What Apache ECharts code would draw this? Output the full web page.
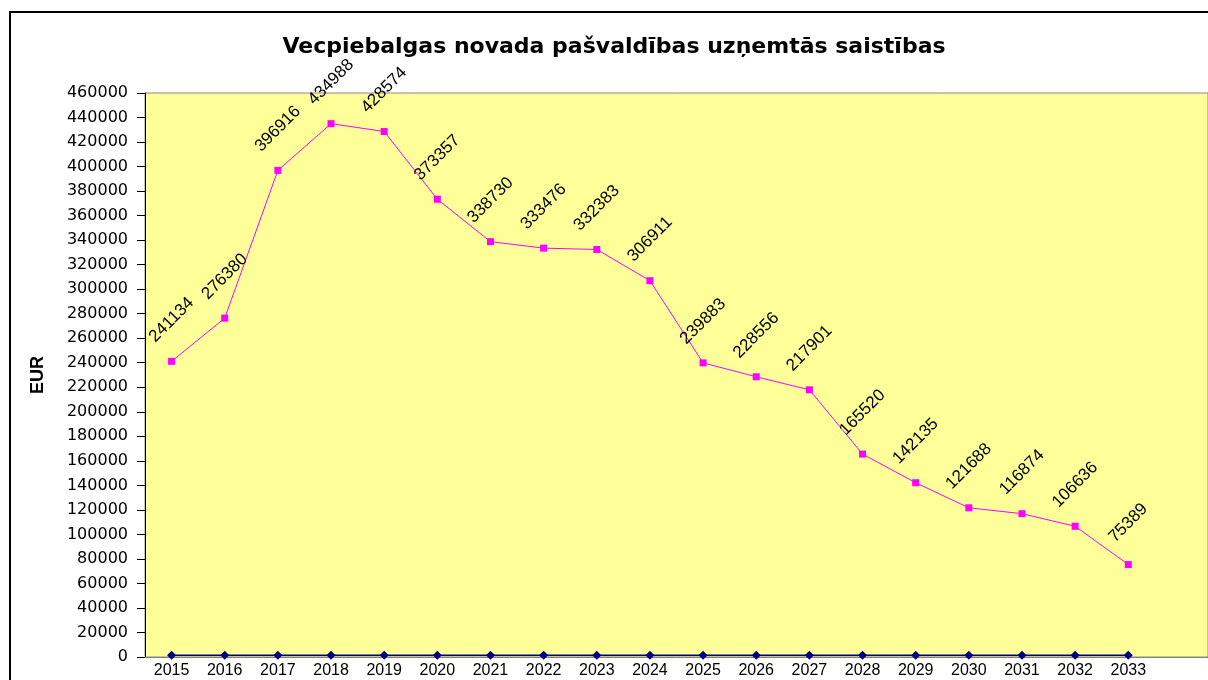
<!DOCTYPE html>
<html>
<head>
<meta charset="utf-8">
<script src="https://cdn.jsdelivr.net/npm/echarts@6/dist/echarts.min.js"></script>
<style>
html,body{margin:0;padding:0;background:#fff;}
#c{width:1208px;height:680px;}
</style>
</head>
<body>
<div id="c"></div>
<script>
const titleText = 'Vecpiebalgas novada pašvaldības uzņemtās saistības';
const yAxisName = 'EUR';
const years = ['2015','2016','2017','2018','2019','2020','2021','2022','2023','2024','2025','2026','2027','2028','2029','2030','2031','2032','2033'];
const extraCategories = [''];
const liabilities = [241134, 276380, 396916, 434988, 428574, 373357, 338730, 333476, 332383, 306911, 239883, 228556, 217901, 165520, 142135, 121688, 116874, 106636, 75389];
const baseline = [1500, 1500, 1500, 1500, 1500, 1500, 1500, 1500, 1500, 1500, 1500, 1500, 1500, 1500, 1500, 1500, 1500, 1500, 1500];
const yMin = 0, yMax = 460000, yStep = 20000;

const chart = echarts.init(document.getElementById('c'), null, {renderer: 'canvas'});
const FONT = 'Arial, "Liberation Sans", sans-serif';
const WIDE = '"DejaVu Sans", Arial, sans-serif';
chart.setOption({
  animation: false,
  backgroundColor: '#ffffff',
  title: {
    text: titleText,
    left: 609,
    top: 31,
    textAlign: 'center',
    textStyle: {fontFamily: WIDE, fontSize: 22, fontWeight: 'bold', color: '#000'}
  },
  graphic: [{
    type: 'rect', silent: true, z: 100,
    shape: {x: 10, y: 12, width: 1300, height: 720},
    style: {fill: 'none', stroke: '#000', lineWidth: 2}
  }],
  grid: {
    left: 145, top: 93, bottom: 23, right: 0,
    show: true, backgroundColor: '#FFFF99', borderColor: '#8a8a80', borderWidth: 1,
    containLabel: false
  },
  xAxis: {
    type: 'category',
    data: years.concat(extraCategories),
    boundaryGap: true,
    axisLine: {lineStyle: {color: '#808080', width: 1}},
    axisTick: {show: false},
    axisLabel: {fontFamily: FONT, fontSize: 16, color: '#000', margin: 6, interval: 0},
    splitLine: {show: false}
  },
  yAxis: {
    type: 'value',
    min: yMin, max: yMax, interval: yStep,
    name: yAxisName,
    nameLocation: 'middle',
    nameGap: 98,
    nameRotate: 90,
    nameTextStyle: {fontFamily: FONT, fontSize: 18, fontWeight: 'bold', color: '#000'},
    axisLine: {show: true, lineStyle: {color: '#000', width: 1}},
    axisTick: {show: true, inside: false, length: 8, lineStyle: {color: '#000'}},
    axisLabel: {fontFamily: WIDE, fontSize: 16, color: '#000', margin: 17,
      formatter: function (v) { return String(v); }},
    splitLine: {show: false}
  },
  series: [
    {
      name: 'base',
      type: 'line',
      data: baseline,
      symbol: 'diamond',
      symbolSize: 9,
      lineStyle: {color: '#000080', width: 1.5},
      itemStyle: {color: '#000080'},
      z: 3
    },
    {
      name: 'saistības',
      type: 'line',
      data: liabilities,
      symbol: 'rect',
      symbolSize: 7,
      lineStyle: {color: '#FF00FF', width: 1},
      itemStyle: {color: '#FF00FF'},
      label: {
        show: true,
        position: 'top',
        distance: 38,
        rotate: 45,
        align: 'center',
        verticalAlign: 'middle',
        fontFamily: FONT,
        fontSize: 17,
        color: '#000',
        formatter: function (p) { return String(p.value); }
      },
      z: 4
    }
  ]
});
</script>
</body>
</html>
